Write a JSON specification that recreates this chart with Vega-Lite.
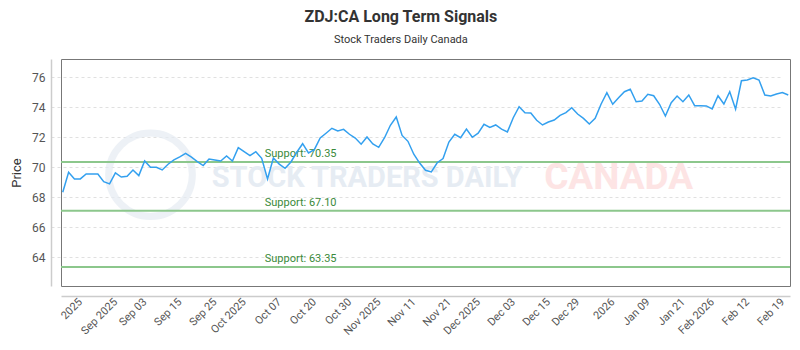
{
  "$schema": "https://vega.github.io/schema/vega-lite/v6.json",
  "width": 729,
  "height": 227,
  "autosize": {"type": "none"},
  "padding": {"left": 61, "top": 59, "right": 10, "bottom": 64},
  "background": "white",
  "title": {
    "text": "ZDJ:CA Long Term Signals",
    "subtitle": "Stock Traders Daily Canada",
    "anchor": "middle",
    "frame": "bounds",
    "font": "Roboto",
    "fontSize": 16,
    "fontWeight": "bold",
    "color": "#333333",
    "subtitleFont": "Roboto",
    "subtitleFontSize": 11,
    "subtitleColor": "#333333",
    "subtitlePadding": 9,
    "offset": 14
  },
  "config": {
    "view": {"stroke": "#777777", "strokeWidth": 1},
    "font": "Roboto",
    "axis": {"titleFontWeight": "normal"},
    "axisY": {
      "titleFont": "Roboto",
      "titleFontSize": 13,
      "titleFontWeight": "normal",
      "titleColor": "#333333",
      "titlePadding": 8,
      "labelFont": "Roboto",
      "labelFontSize": 12,
      "labelColor": "#555555",
      "labelPadding": 6,
      "labelOverlap": false,
      "ticks": false,
      "domainColor": "#cccccc",
      "domainWidth": 1.5,
      "offset": 10,
      "grid": true,
      "gridColor": "#e0e0e0",
      "gridDash": [3, 3]
    }
  },
  "datasets": {
    "prices": [
      {"date": "2025-08-22", "price": 68.33}, {"date": "2025-08-25", "price": 69.67}, {"date": "2025-08-26", "price": 69.22}, {"date": "2025-08-27", "price": 69.22}, {"date": "2025-08-28", "price": 69.55}, {"date": "2025-08-29", "price": 69.55},
      {"date": "2025-09-02", "price": 69.55}, {"date": "2025-09-03", "price": 69.04}, {"date": "2025-09-04", "price": 68.89}, {"date": "2025-09-05", "price": 69.62}, {"date": "2025-09-08", "price": 69.35}, {"date": "2025-09-09", "price": 69.40},
      {"date": "2025-09-10", "price": 69.82}, {"date": "2025-09-11", "price": 69.44}, {"date": "2025-09-12", "price": 70.42}, {"date": "2025-09-15", "price": 70.00}, {"date": "2025-09-16", "price": 70.00}, {"date": "2025-09-17", "price": 69.82},
      {"date": "2025-09-18", "price": 70.20}, {"date": "2025-09-19", "price": 70.49}, {"date": "2025-09-22", "price": 70.69}, {"date": "2025-09-23", "price": 70.93}, {"date": "2025-09-24", "price": 70.67}, {"date": "2025-09-25", "price": 70.37},
      {"date": "2025-09-26", "price": 70.11}, {"date": "2025-09-29", "price": 70.55}, {"date": "2025-09-30", "price": 70.49}, {"date": "2025-10-01", "price": 70.42}, {"date": "2025-10-02", "price": 70.75}, {"date": "2025-10-03", "price": 70.42},
      {"date": "2025-10-06", "price": 71.31}, {"date": "2025-10-07", "price": 71.04}, {"date": "2025-10-08", "price": 70.77}, {"date": "2025-10-09", "price": 71.04}, {"date": "2025-10-10", "price": 70.60}, {"date": "2025-10-14", "price": 69.22},
      {"date": "2025-10-15", "price": 70.62}, {"date": "2025-10-16", "price": 70.21}, {"date": "2025-10-17", "price": 69.93}, {"date": "2025-10-20", "price": 70.35}, {"date": "2025-10-21", "price": 71.00}, {"date": "2025-10-22", "price": 71.57},
      {"date": "2025-10-23", "price": 70.95}, {"date": "2025-10-24", "price": 71.17}, {"date": "2025-10-27", "price": 71.95}, {"date": "2025-10-28", "price": 72.27}, {"date": "2025-10-29", "price": 72.60}, {"date": "2025-10-30", "price": 72.42},
      {"date": "2025-10-31", "price": 72.53}, {"date": "2025-11-03", "price": 72.20}, {"date": "2025-11-04", "price": 71.95}, {"date": "2025-11-05", "price": 71.54}, {"date": "2025-11-06", "price": 72.02}, {"date": "2025-11-07", "price": 71.55},
      {"date": "2025-11-10", "price": 71.33}, {"date": "2025-11-11", "price": 71.97}, {"date": "2025-11-12", "price": 72.80}, {"date": "2025-11-13", "price": 73.35}, {"date": "2025-11-14", "price": 72.12}, {"date": "2025-11-17", "price": 71.73},
      {"date": "2025-11-18", "price": 70.87}, {"date": "2025-11-19", "price": 70.28}, {"date": "2025-11-20", "price": 69.80}, {"date": "2025-11-21", "price": 69.69}, {"date": "2025-11-24", "price": 70.30}, {"date": "2025-11-25", "price": 70.58},
      {"date": "2025-11-26", "price": 71.68}, {"date": "2025-11-27", "price": 72.20}, {"date": "2025-11-28", "price": 71.97}, {"date": "2025-12-01", "price": 72.55}, {"date": "2025-12-02", "price": 72.00}, {"date": "2025-12-03", "price": 72.27},
      {"date": "2025-12-04", "price": 72.87}, {"date": "2025-12-05", "price": 72.66}, {"date": "2025-12-08", "price": 72.82}, {"date": "2025-12-09", "price": 72.54}, {"date": "2025-12-10", "price": 72.36}, {"date": "2025-12-11", "price": 73.30},
      {"date": "2025-12-12", "price": 74.04}, {"date": "2025-12-15", "price": 73.64}, {"date": "2025-12-16", "price": 73.62}, {"date": "2025-12-17", "price": 73.13}, {"date": "2025-12-18", "price": 72.82}, {"date": "2025-12-19", "price": 73.02},
      {"date": "2025-12-22", "price": 73.15}, {"date": "2025-12-23", "price": 73.46}, {"date": "2025-12-24", "price": 73.64}, {"date": "2025-12-29", "price": 73.97}, {"date": "2025-12-30", "price": 73.55}, {"date": "2025-12-31", "price": 73.26},
      {"date": "2026-01-02", "price": 72.89}, {"date": "2026-01-05", "price": 73.26}, {"date": "2026-01-06", "price": 74.20}, {"date": "2026-01-07", "price": 74.98}, {"date": "2026-01-08", "price": 74.20}, {"date": "2026-01-09", "price": 74.64},
      {"date": "2026-01-12", "price": 75.04}, {"date": "2026-01-13", "price": 75.20}, {"date": "2026-01-14", "price": 74.37}, {"date": "2026-01-15", "price": 74.42}, {"date": "2026-01-16", "price": 74.87}, {"date": "2026-01-19", "price": 74.77},
      {"date": "2026-01-20", "price": 74.20}, {"date": "2026-01-21", "price": 73.42}, {"date": "2026-01-22", "price": 74.31}, {"date": "2026-01-23", "price": 74.75}, {"date": "2026-01-26", "price": 74.37}, {"date": "2026-01-27", "price": 74.82},
      {"date": "2026-01-28", "price": 74.11}, {"date": "2026-01-29", "price": 74.11}, {"date": "2026-01-30", "price": 74.09}, {"date": "2026-02-02", "price": 73.89}, {"date": "2026-02-03", "price": 74.77}, {"date": "2026-02-04", "price": 74.22},
      {"date": "2026-02-05", "price": 75.04}, {"date": "2026-02-06", "price": 73.87}, {"date": "2026-02-09", "price": 75.77}, {"date": "2026-02-10", "price": 75.82}, {"date": "2026-02-11", "price": 75.97}, {"date": "2026-02-12", "price": 75.82},
      {"date": "2026-02-13", "price": 74.82}, {"date": "2026-02-17", "price": 74.75}, {"date": "2026-02-18", "price": 74.89}, {"date": "2026-02-19", "price": 74.98}, {"date": "2026-02-20", "price": 74.82}
    ],
    "supports": [
      {"price": 70.35, "label": "Support: 70.35"},
      {"price": 67.10, "label": "Support: 67.10"},
      {"price": 63.35, "label": "Support: 63.35"}
    ]
  },
  "layer": [
    {
      "data": {"values": [{"name": "logo"}]},
      "mark": {"type": "point", "shape": "circle", "filled": false, "stroke": "#e6ecf3", "strokeWidth": 7, "size": 7000},
      "encoding": {
        "x": {"datum": "2025-09-15", "type": "ordinal"},
        "y": {"datum": 69.5, "type": "quantitative", "scale": {"domain": [62.08, 77.22], "zero": false, "nice": false}, "title": "Price", "axis": {"values": [64, 66, 68, 70, 72, 74, 76], "format": "d", "titleFontWeight": "normal"}}
      }
    },
    {
      "data": {"values": [{"word": "STOCK TRADERS DAILY"}]},
      "mark": {"type": "text", "font": "Roboto", "fontWeight": "bold", "fontSize": 29, "color": "#e6ecf3", "align": "center", "baseline": "middle"},
      "encoding": {
        "x": {"datum": "2025-11-06", "type": "ordinal"},
        "y": {"datum": 69.25, "type": "quantitative", "scale": {"domain": [62.08, 77.22], "zero": false, "nice": false}, "title": "Price", "axis": {"values": [64, 66, 68, 70, 72, 74, 76], "format": "d", "titleFontWeight": "normal"}},
        "text": {"field": "word"}
      }
    },
    {
      "data": {"values": [{"word": "CANADA"}]},
      "mark": {"type": "text", "font": "Roboto", "fontWeight": "bold", "fontSize": 37, "color": "#fde4e4", "align": "center", "baseline": "middle"},
      "encoding": {
        "x": {"datum": "2026-01-09", "type": "ordinal"},
        "y": {"datum": 69.25, "type": "quantitative", "scale": {"domain": [62.08, 77.22], "zero": false, "nice": false}, "title": "Price", "axis": {"values": [64, 66, 68, 70, 72, 74, 76], "format": "d", "titleFontWeight": "normal"}},
        "text": {"field": "word"}
      }
    },
    {
      "data": {"name": "supports"},
      "mark": {"type": "rule", "color": "#8cc78c", "strokeWidth": 2},
      "encoding": {
        "y": {"field": "price", "type": "quantitative", "scale": {"domain": [62.08, 77.22], "zero": false, "nice": false}, "title": "Price", "axis": {"values": [64, 66, 68, 70, 72, 74, 76], "format": "d", "titleFontWeight": "normal"}}
      }
    },
    {
      "data": {"name": "supports"},
      "mark": {"type": "text", "font": "Roboto", "fontSize": 11, "color": "#3a8a3a", "align": "left", "baseline": "bottom", "dx": 3, "dy": -3},
      "encoding": {
        "x": {"datum": "2025-10-10", "type": "ordinal"},
        "y": {"field": "price", "type": "quantitative", "scale": {"domain": [62.08, 77.22], "zero": false, "nice": false}, "title": "Price", "axis": {"values": [64, 66, 68, 70, 72, 74, 76], "format": "d", "titleFontWeight": "normal"}},
        "text": {"field": "label"}
      }
    },
    {
      "data": {"name": "prices"},
      "mark": {"type": "line", "color": "#33a0ef", "strokeWidth": 1.5},
      "encoding": {
        "x": {
          "field": "date",
          "type": "ordinal",
          "scale": {"type": "point", "padding": 0.3},
          "axis": {
            "title": null,
            "values": ["2025-08-27","2025-09-05","2025-09-12","2025-09-22","2025-09-30","2025-10-07","2025-10-16","2025-10-24","2025-11-03","2025-11-10","2025-11-18","2025-11-26","2025-12-03","2025-12-11","2025-12-19","2025-12-30","2026-01-08","2026-01-16","2026-01-26","2026-02-02","2026-02-10","2026-02-19"],
            "labelExpr": "['2025','Sep 2025','Sep 03','Sep 15','Sep 25','Oct 2025','Oct 07','Oct 20','Oct 30','Nov 2025','Nov 11','Nov 21','Dec 2025','Dec 03','Dec 15','Dec 29','2026','Jan 09','Jan 21','Feb 2026','Feb 12','Feb 19'][indexof(['2025-08-27','2025-09-05','2025-09-12','2025-09-22','2025-09-30','2025-10-07','2025-10-16','2025-10-24','2025-11-03','2025-11-10','2025-11-18','2025-11-26','2025-12-03','2025-12-11','2025-12-19','2025-12-30','2026-01-08','2026-01-16','2026-01-26','2026-02-02','2026-02-10','2026-02-19'], datum.value)]",
            "labelAngle": -45,
            "labelFont": "Roboto",
            "labelFontSize": 11,
            "labelColor": "#555555",
            "labelOverlap": false,
            "labelPadding": 4,
            "ticks": false,
            "grid": false,
            "domainColor": "#cccccc",
            "domainWidth": 1.5,
            "offset": 10
          }
        },
        "y": {
          "field": "price",
          "type": "quantitative",
          "scale": {"domain": [62.08, 77.22], "zero": false, "nice": false},
          "title": "Price",
          "axis": {"values": [64, 66, 68, 70, 72, 74, 76], "format": "d", "titleFontWeight": "normal"}
        }
      }
    }
  ]
}
